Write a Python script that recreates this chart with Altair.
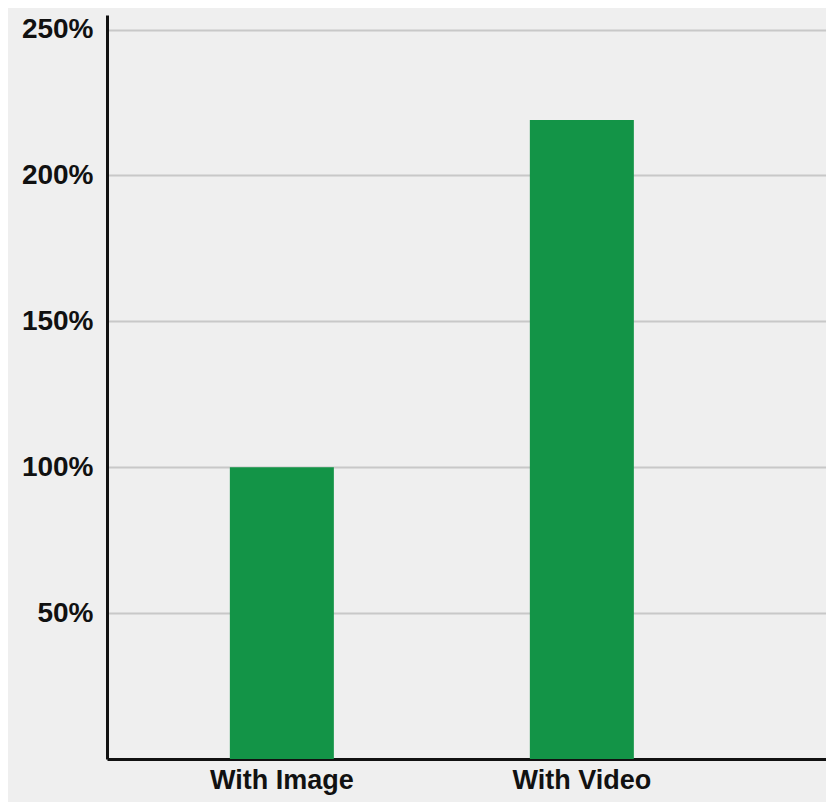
import altair as alt
import pandas as pd

categories = ["With Image", "With Video"]
values = [100, 219]
tick_values = [50, 100, 150, 200, 250]

df = pd.DataFrame({"category": categories, "value": values})

chart = alt.Chart(df).mark_bar(color="#139447").encode(
    x=alt.X(
        "category:N",
        sort=categories,
        title=None,
        scale=alt.Scale(paddingInner=0.6533, paddingOuter=0.525, align=0.39),
        axis=alt.Axis(
            labelAngle=0,
            labelFont="Liberation Sans",
            labelFontWeight="bold",
            labelFontSize=27,
            labelColor="#111111",
            labelPadding=8,
            ticks=False,
            domainColor="#111111",
            domainWidth=3,
            grid=False,
        ),
    ),
    y=alt.Y(
        "value:Q",
        title=None,
        scale=alt.Scale(domain=[0, 255], nice=False),
        axis=alt.Axis(
            values=tick_values,
            labelExpr="datum.value + '%'",
            labelFont="Liberation Sans",
            labelFontWeight="bold",
            labelFontSize=28,
            labelColor="#111111",
            labelPadding=14,
            ticks=False,
            domainColor="#111111",
            domainWidth=3,
            grid=True,
            gridColor="#c8c8c8",
            gridWidth=2,
        ),
    ),
).properties(
    width=719,
    height=744,
    background="#efefef",
    padding={"left": 99, "top": 7, "right": 0, "bottom": 43},
    autosize=alt.AutoSizeParams(type="none"),
).configure_view(stroke=None)

chart.save("out.html", embed_options={"renderer": "svg", "actions": False})
